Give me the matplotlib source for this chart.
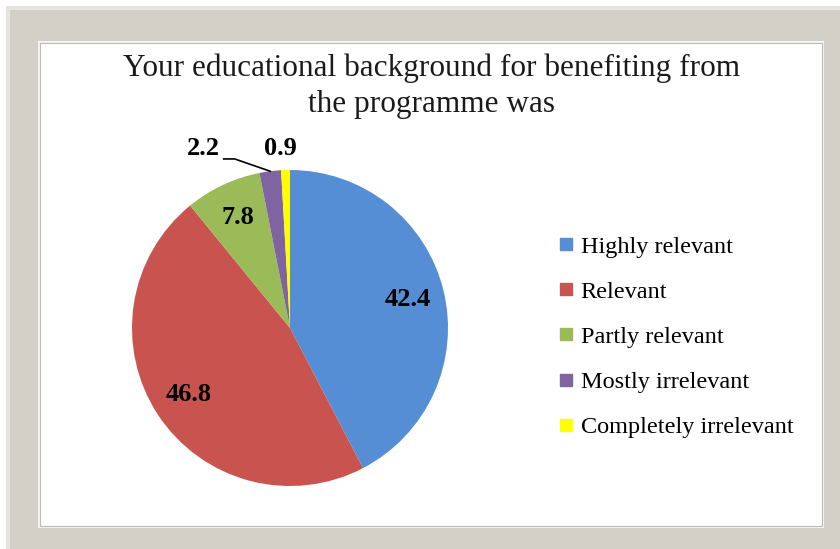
import numpy as np
import matplotlib
matplotlib.use('Agg')
import matplotlib.pyplot as plt
from matplotlib.patches import Rectangle
from matplotlib.lines import Line2D

#data
categories=['Highly relevant','Relevant','Partly relevant','Mostly irrelevant','Completely irrelevant']
values=[42.4,46.8,7.8,2.2,0.9]
colours=['#558ED5','#C9534F','#9BBB59','#8064A2','#FFFF00']
title='Your educational background for benefiting from\nthe programme was'

plt.rcParams['font.family']=['Liberation Serif','DejaVu Serif']

W,H=840,549
fig=plt.figure(figsize=(W/100,H/100),dpi=100)
fig.patch.set_facecolor('white')

#picture frame: grey board with white mount
def px(x,y,w,h,**kw):
    return Rectangle((x/W,1-(y+h)/H),w/W,h/H,transform=fig.transFigure,**kw)

fig.patches.append(px(6,6,W,H,facecolor='#E6E4DF',edgecolor='none',zorder=-3))
fig.patches.append(px(10,10,W,H,facecolor='#D3D0C8',edgecolor='none',zorder=-3))
fig.patches.append(px(38,41,786,487,facecolor='#F4F3F0',edgecolor='none',zorder=-3))
fig.patches.append(px(40,43,782,483,facecolor='white',edgecolor='#BDBAB3',linewidth=0.8,zorder=-2))

fig.text(432/W,1-86/H,title,ha='center',va='center',fontsize=22.5,linespacing=1.3,color='#1a1a1a')

#pie axes, centre (290,328) radius 158 px
cx,cy,r=290,328,158
ax=fig.add_axes([(cx-r)/W,(H-cy-r)/H,2*r/W,2*r/H])
wedges,_=ax.pie(values,colors=colours,startangle=90,counterclock=False,radius=1,
                wedgeprops=dict(linewidth=0))
ax.set_xlim(-1,1)
ax.set_ylim(-1,1)
ax.axis('off')

#value labels inside the three big slices
for w,v in zip(wedges[:3],values[:3]):
    ang=np.deg2rad((w.theta1+w.theta2)/2)
    ax.text(0.77*np.cos(ang),0.77*np.sin(ang),'%.1f'%v,ha='center',va='center',
            fontsize=19,fontweight='bold')

#small slices labelled outside
w=wedges[3]
ang=np.deg2rad((w.theta1+w.theta2)/2)
ax.text(-0.55,1.135,'%.1f'%values[3],ha='center',va='center',fontsize=19,fontweight='bold',clip_on=False)
ax.plot([-0.42,-0.35,np.cos(ang)],[1.07,1.07,np.sin(ang)],color='black',linewidth=1.2,clip_on=False)
ax.text(-0.06,1.135,'%.1f'%values[4],ha='center',va='center',fontsize=19,fontweight='bold',clip_on=False)

handles=[Line2D([],[],marker='s',linestyle='none',markersize=9,markerfacecolor=c,markeredgecolor=c) for c in colours]
fig.legend(handles,categories,loc='upper left',bbox_to_anchor=(549/W,1-226/H),frameon=False,
           fontsize=17.5,handlelength=0.6,handletextpad=0.3,labelspacing=0.95,borderaxespad=0)

fig.savefig('out.png',dpi=100)
